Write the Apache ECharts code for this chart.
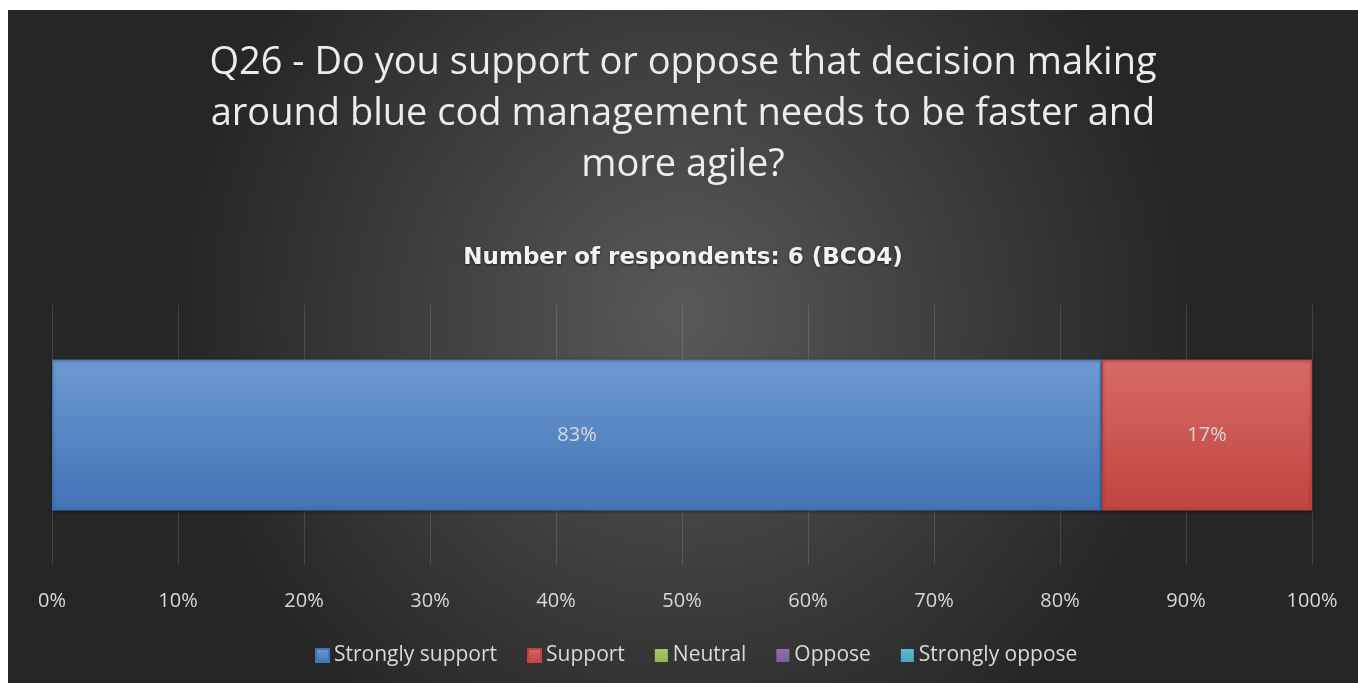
<!DOCTYPE html>
<html>
<head>
<meta charset="utf-8">
<script src="https://cdn.jsdelivr.net/npm/echarts@6/dist/echarts.min.js"></script>
<style>
  html, body { margin: 0; padding: 0; background: #ffffff; }
  #main { position: absolute; left: 8px; top: 10px; width: 1350px; height: 673px; }
</style>
</head>
<body>
<div id="main"></div>
<script>
// answers and their share of the 6 respondents (%)
var answers = ['Strongly support', 'Support', 'Neutral', 'Oppose', 'Strongly oppose'];
var shares = [83.33, 16.67, 0, 0, 0];
var colorsTop = ['#6e9ad3', '#d86a66', '#a9c96a', '#8e72b0', '#5cbad2'];
var colorsBottom = ['#4273b6', '#c0443f', '#93b550', '#7a5e9c', '#45a6c0'];
var ticks = ['0%', '10%', '20%', '30%', '40%', '50%', '60%', '70%', '80%', '90%', '100%'];

var myChart = echarts.init(document.getElementById('main'));

var seriesarr = [];
for (var i = 0; i < answers.length; i++) {
    seriesarr.push({
        name: answers[i],
        type: 'bar',
        stack: 'total',
        barWidth: 151,
        data: [shares[i]],
        itemStyle: {
            color: {
                type: 'linear', x: 0, y: 0, x2: 0, y2: 1,
                colorStops: [
                    {offset: 0, color: colorsTop[i]},
                    {offset: 1, color: colorsBottom[i]}
                ]
            },
            borderColor: colorsBottom[i],
            borderWidth: shares[i] > 0 ? 1 : 0,
            shadowColor: 'rgba(0,0,0,0.45)',
            shadowBlur: shares[i] > 0 ? 3 : 0,
            shadowOffsetY: 1
        },
        label: {
            show: shares[i] > 0,
            position: 'inside',
            color: '#d9d9d9',
            fontSize: 20,
            fontFamily: 'Open Sans',
            formatter: function (p) {
                return Math.round(p.value) + '%';
            }
        }
    });
}

var option = {
    backgroundColor: {
        type: 'radial', x: 0.5, y: 0.45, r: 0.75,
        colorStops: [
            {offset: 0, color: '#595959'},
            {offset: 1, color: '#262626'}
        ]
    },
    title: [{
        text: 'Q26 - Do you support or oppose that decision making\naround blue cod management needs to be faster and\nmore agile?',
        left: 'center',
        top: 28,
        padding: [0, 0, 0, 8],
        textStyle: {
            color: '#ececec',
            fontSize: 38,
            fontWeight: 'normal',
            fontFamily: 'Open Sans',
            lineHeight: 51
        }
    }, {
        text: 'Number of respondents: 6 (BCO4)',
        left: 'center',
        top: 237,
        padding: [0, 0, 0, 8],
        textStyle: {
            color: '#f2f2f2',
            fontSize: 23,
            fontWeight: 'bold',
            fontFamily: 'DejaVu Sans',
            textShadowColor: 'rgba(0,0,0,0.6)',
            textShadowBlur: 3,
            textShadowOffsetY: 1
        }
    }],
    legend: {
        data: answers,
        bottom: 12,
        left: 302,
        itemWidth: 13,
        itemHeight: 13,
        itemGap: 30,
        icon: 'rect',
        textStyle: {
            color: '#d9d9d9',
            fontSize: 21,
            fontFamily: 'Open Sans'
        }
    },
    grid: {
        left: 44,
        right: 46,
        top: 295,
        bottom: 118
    },
    xAxis: {
        type: 'value',
        min: 0,
        max: 100,
        interval: 10,
        axisLine: {show: false},
        axisTick: {show: false},
        splitLine: {lineStyle: {color: 'rgba(255,255,255,0.13)', width: 1}},
        axisLabel: {
            color: '#d9d9d9',
            fontSize: 20,
            fontFamily: 'Open Sans',
            margin: 26,
            formatter: function (v) {
                return ticks[v / 10];
            }
        }
    },
    yAxis: {
        type: 'category',
        data: [''],
        axisLine: {show: false},
        axisTick: {show: false},
        axisLabel: {show: false}
    },
    series: seriesarr
};

myChart.setOption(option);
</script>
</body>
</html>
